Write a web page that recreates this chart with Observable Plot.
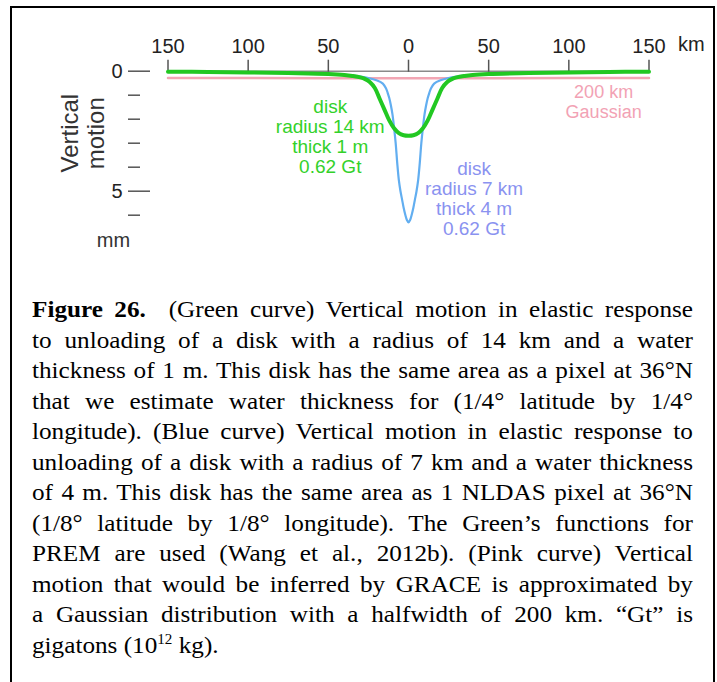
<!DOCTYPE html>
<html>
<head>
<meta charset="utf-8">
<script src="https://cdn.jsdelivr.net/npm/d3@7"></script>
<script src="https://cdn.jsdelivr.net/npm/@observablehq/plot@0.6"></script>
<style>
  html, body { margin: 0; padding: 0; background: #fff; width: 717px; height: 682px; overflow: hidden; }
  #chart { position: absolute; left: 0; top: 0; }
  #box { position: absolute; left: 10px; top: 6px; width: 701px; height: 740px; border: 2.5px solid #000; background: transparent; pointer-events: none; }
  #caption { position: absolute; left: 32px; top: 294px; width: 629.5px; transform: scaleX(1.05); transform-origin: 0 0;
    font-family: "Liberation Serif", "Times New Roman", serif; font-size: 24px; line-height: 30.55px; color: #000; }
  #caption .j { text-align: justify; text-align-last: justify; }
  #caption .l { text-align: left; }
</style>
</head>
<body>
<div id="chart"></div>
<div id="caption"></div>
<div id="box"></div>
<script>
// ---- data ----
const xTicks = [-150, -100, -50, 0, 50, 100, 150];
const yMajorTicks = [0, 5];
const yMinorTicks = [1, 2, 3, 4, 6];
const xUnit = "km";
const yUnit = "mm";
const yTitle = "Vertical\nmotion";

// Green curve: disk radius 14 km, thick 1 m
const greenKm = [-150, -125, -100, -75, -50, -40, -35, -30, -27, -24, -21, -18, -15, -12, -9, -6, -3, 0, 3, 6, 9, 12, 15, 18, 21, 24, 27, 30, 35, 40, 50, 75, 100, 125, 150];
const greenMm = [0.02, 0.03, 0.05, 0.08, 0.12, 0.16, 0.2, 0.26, 0.33, 0.46, 0.7, 1.15, 1.6, 2.05, 2.38, 2.58, 2.67, 2.69, 2.67, 2.58, 2.38, 2.05, 1.6, 1.15, 0.7, 0.46, 0.33, 0.26, 0.2, 0.16, 0.12, 0.08, 0.05, 0.03, 0.02];

// Blue curve: disk radius 7 km, thick 4 m
const blueKm = [-150, -100, -50, -30, -20, -16, -14, -13, -12, -11, -10, -9, -8, -7, -6, -5, -4, -3, -2, -1, 0, 1, 2, 3, 4, 5, 6, 7, 8, 9, 10, 11, 12, 13, 14, 16, 20, 30, 50, 100, 150];
const blueMm = [0.02, 0.05, 0.11, 0.22, 0.38, 0.52, 0.72, 0.9, 1.12, 1.42, 1.8, 2.35, 3.0, 3.85, 4.55, 5.0, 5.35, 5.7, 5.98, 6.2, 6.3, 6.2, 5.98, 5.7, 5.35, 5.0, 4.55, 3.85, 3.0, 2.35, 1.8, 1.42, 1.12, 0.9, 0.72, 0.52, 0.38, 0.22, 0.11, 0.05, 0.02];

// Pink curve: 200 km Gaussian
const pinkKm = [-150, -100, -50, 0, 50, 100, 150];
const pinkMm = [0.28, 0.285, 0.29, 0.29, 0.29, 0.285, 0.28];

// Annotations
const greenLabel = "disk\nradius 14 km\nthick 1 m\n0.62 Gt";
const blueLabel = "disk\nradius 7 km\nthick 4 m\n0.62 Gt";
const pinkLabel = "200 km\nGaussian";
const labelKm = [-48.8, 40.9, 121.7];
const labelMm = [2.74, 5.32, 1.28];

// Caption lines
const captionLines = [
  "<b>Figure 26.</b>&nbsp; (Green curve) Vertical motion in elastic response",
  "to unloading of a disk with a radius of 14 km and a water",
  "thickness of 1 m. This disk has the same area as a pixel at 36°N",
  "that we estimate water thickness for (1/4° latitude by 1/4°",
  "longitude). (Blue curve) Vertical motion in elastic response to",
  "unloading of a disk with a radius of 7 km and a water thickness",
  "of 4 m. This disk has the same area as 1 NLDAS pixel at 36°N",
  "(1/8° latitude by 1/8° longitude). The Green’s functions for",
  "PREM are used (Wang et al., 2012b). (Pink curve) Vertical",
  "motion that would be inferred by GRACE is approximated by",
  "a Gaussian distribution with a halfwidth of 200 km. “Gt” is",
  "gigatons (10<sup style=\"font-size:0.6em;vertical-align:0.65em;line-height:0\">12</sup> kg)."
];

// ---- build ----
const series = (ks, vs) => ks.map((k, i) => ({km: k, mm: vs[i]}));
const green = series(greenKm, greenMm);
const blue = series(blueKm, blueMm);
const pink = series(pinkKm, pinkMm);

const font = "'Liberation Sans', Arial, Helvetica, sans-serif";

const chart = Plot.plot({
  width: 717,
  height: 270,
  marginLeft: 167.5,
  marginRight: 68.5,
  marginTop: 70.7,
  marginBottom: 31.3,
  x: {domain: [-150, 150]},
  y: {domain: [0, 7], reverse: true},
  style: {fontFamily: font, fontSize: "20px", color: "#222", background: "transparent"},
  marks: [
    Plot.ruleY([0], {stroke: "#8a8a8a", strokeWidth: 1.5}),
    Plot.axisX(xTicks, {anchor: "top", tickSize: 12, tickPadding: 6, tickFormat: d => String(Math.abs(d)), stroke: "#555", strokeWidth: 1.5, fontSize: 20, fill: "#222", label: null}),
    Plot.text([xUnit], {x: [xTicks[xTicks.length - 1]], frameAnchor: "top", dx: 29, dy: -26.5, textAnchor: "start", lineAnchor: "middle", fontSize: 20, fill: "#222"}),
    Plot.axisY(yMajorTicks, {anchor: "left", tickSize: 22, tickPadding: 6, dx: -17.5, stroke: "#555", strokeWidth: 1.5, fontSize: 20, fill: "#222", label: null}),
    Plot.axisY(yMinorTicks, {anchor: "left", tickSize: 12, dx: -27.5, stroke: "#555", strokeWidth: 1.5, tickFormat: () => "", label: null}),
    Plot.text([yUnit], {frameAnchor: "bottom-left", dx: -54.5, dy: 1.5, textAnchor: "middle", lineAnchor: "middle", fontSize: 20, fill: "#333"}),
    Plot.text([yTitle], {frameAnchor: "left", rotate: -90, dx: -85, dy: -22, textAnchor: "middle", lineAnchor: "middle", fontSize: 24, lineHeight: 1.05, fill: "#333"}),
    Plot.line(pink, {x: "km", y: "mm", stroke: "#f2a6b4", strokeWidth: 2.5}),
    Plot.line(blue, {x: "km", y: "mm", stroke: "#62aef0", strokeWidth: 2.2, curve: "catmull-rom"}),
    Plot.line(green, {x: "km", y: "mm", stroke: "#22c822", strokeWidth: 4, curve: "catmull-rom"}),
    Plot.text([greenLabel], {x: [labelKm[0]], y: [labelMm[0]], textAnchor: "middle", lineAnchor: "middle", fontSize: 19, lineHeight: 1.05, fill: "#33d12a"}),
    Plot.text([blueLabel], {x: [labelKm[1]], y: [labelMm[1]], textAnchor: "middle", lineAnchor: "middle", fontSize: 19, lineHeight: 1.05, fill: "#8a92f0"}),
    Plot.text([pinkLabel], {x: [labelKm[2]], y: [labelMm[2]], textAnchor: "middle", lineAnchor: "middle", fontSize: 18, lineHeight: 1.08, fill: "#f2a2b4"})
  ]
});
document.getElementById("chart").appendChild(chart);

const cap = document.getElementById("caption");
captionLines.forEach((line, i) => {
  const div = document.createElement("div");
  div.className = i === captionLines.length - 1 ? "l" : "j";
  div.innerHTML = line;
  cap.appendChild(div);
});
</script>
</body>
</html>
